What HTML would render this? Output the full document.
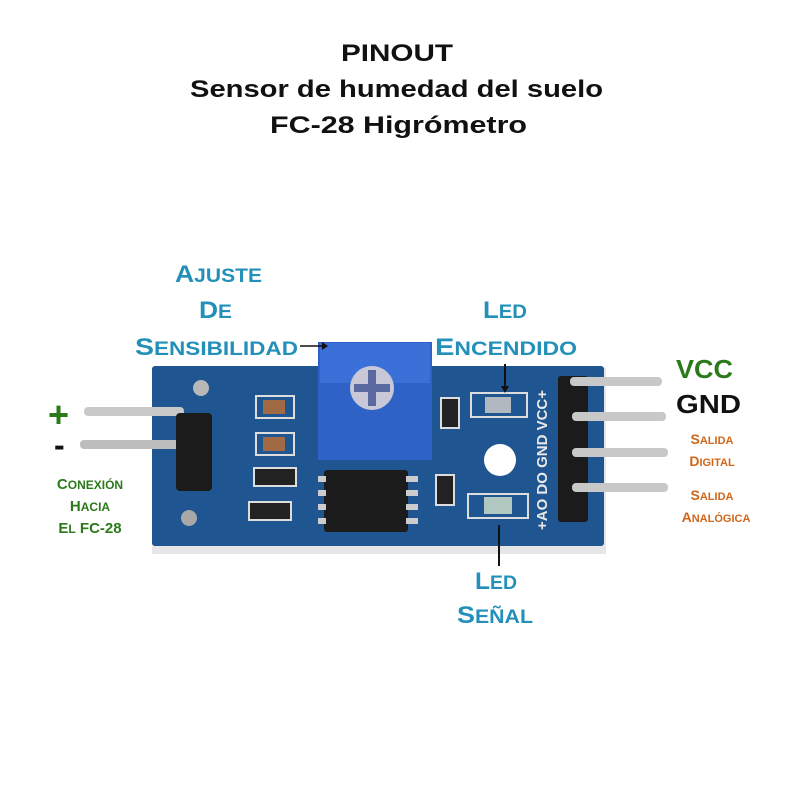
<!DOCTYPE html>
<html><head><style>
body{margin:0;background:#fff;}
svg text{font-family:"Liberation Sans",sans-serif;font-weight:bold;}
</style></head><body>
<svg width="800" height="800" viewBox="0 0 800 800" xmlns="http://www.w3.org/2000/svg">
<text x="341" y="61" font-size="24" textLength="112" lengthAdjust="spacingAndGlyphs" fill="#111">PINOUT</text>
<text x="190" y="97" font-size="24" textLength="413" lengthAdjust="spacingAndGlyphs" fill="#111">Sensor de humedad del suelo</text>
<text x="270" y="133" font-size="24" textLength="257" lengthAdjust="spacingAndGlyphs" fill="#111">FC-28 Higrómetro</text>

<!-- board -->
<rect x="152" y="368" width="454" height="186" fill="#e6e6e6"/>
<rect x="152" y="366" width="452" height="180" rx="3" fill="#1f5590"/>
<rect x="84" y="407" width="100" height="9" rx="4" fill="#c9c9c9"/>
<rect x="80" y="440" width="100" height="9" rx="4" fill="#bdbdbd"/>
<rect x="176" y="413" width="36" height="78" rx="4" fill="#1b1b1b"/>
<circle cx="201" cy="388" r="8" fill="#b8b8b8"/>
<circle cx="189" cy="518" r="8" fill="#a8a8a8"/>
<rect x="256" y="396" width="38" height="22" fill="none" stroke="#ddd" stroke-width="2"/>
<rect x="263" y="400" width="22" height="14" fill="#a06a45"/>
<rect x="256" y="433" width="38" height="22" fill="none" stroke="#ddd" stroke-width="2"/>
<rect x="263" y="437" width="22" height="14" fill="#a06a45"/>
<rect x="254" y="468" width="42" height="18" fill="#222" stroke="#ddd" stroke-width="2"/>
<rect x="249" y="502" width="42" height="18" fill="#222" stroke="#ddd" stroke-width="2"/>
<rect x="318" y="342" width="114" height="118" fill="#2e62c6"/>
<rect x="320" y="343" width="110" height="40" fill="#3a70d8"/>
<circle cx="372" cy="388" r="22" fill="#c8c8d8"/>
<rect x="368" y="370" width="8" height="36" fill="#5a6aa0"/>
<rect x="354" y="384" width="36" height="8" fill="#5a6aa0"/>
<rect x="324" y="470" width="84" height="62" rx="3" fill="#1c1c1c"/>
<g fill="#ccc">
<rect x="318" y="476" width="8" height="6"/><rect x="318" y="490" width="8" height="6"/><rect x="318" y="504" width="8" height="6"/><rect x="318" y="518" width="8" height="6"/>
<rect x="406" y="476" width="12" height="6"/><rect x="406" y="490" width="12" height="6"/><rect x="406" y="504" width="12" height="6"/><rect x="406" y="518" width="12" height="6"/>
</g>
<rect x="441" y="398" width="18" height="30" fill="#222" stroke="#ddd" stroke-width="2"/>
<rect x="436" y="475" width="18" height="30" fill="#222" stroke="#ddd" stroke-width="2"/>
<rect x="471" y="393" width="56" height="24" fill="#1f5590" stroke="#ddd" stroke-width="2"/>
<rect x="485" y="397" width="26" height="16" fill="#b0b8c0"/>
<rect x="468" y="494" width="60" height="24" fill="#1f5590" stroke="#ddd" stroke-width="2"/>
<rect x="484" y="497" width="28" height="17" fill="#b0c8c0"/>
<circle cx="500" cy="460" r="16" fill="#fff"/>
<text transform="translate(547,530) rotate(-90)" font-size="15" fill="#e8e8e8" font-weight="normal">+AO DO GND VCC+</text>
<rect x="558" y="376" width="30" height="146" rx="3" fill="#1b1b1b"/>
<rect x="570" y="377" width="92" height="9" rx="4" fill="#c8c8c8"/>
<rect x="572" y="412" width="94" height="9" rx="4" fill="#c8c8c8"/>
<rect x="572" y="448" width="96" height="9" rx="4" fill="#c8c8c8"/>
<rect x="572" y="483" width="96" height="9" rx="4" fill="#c8c8c8"/>

<line x1="300" y1="346" x2="322" y2="346" stroke="#111" stroke-width="1.5"/>
<path d="M322 342 L328 346 L322 350Z" fill="#111"/>
<line x1="505" y1="364" x2="505" y2="390" stroke="#111" stroke-width="2"/>
<path d="M501 386 L505 393 L509 386Z" fill="#111"/>
<line x1="499" y1="525" x2="499" y2="566" stroke="#111" stroke-width="2"/>

<g fill="#2290b8" font-size="24">
<text x="175" y="282" textLength="87" lengthAdjust="spacingAndGlyphs">A<tspan font-size="19">JUSTE</tspan></text>
<text x="199" y="318" textLength="33" lengthAdjust="spacingAndGlyphs">D<tspan font-size="19">E</tspan></text>
<text x="135" y="355" textLength="163" lengthAdjust="spacingAndGlyphs">S<tspan font-size="19">ENSIBILIDAD</tspan></text>
<text x="483" y="318" textLength="44" lengthAdjust="spacingAndGlyphs">L<tspan font-size="19">ED</tspan></text>
<text x="435" y="355" textLength="142" lengthAdjust="spacingAndGlyphs">E<tspan font-size="19">NCENDIDO</tspan></text>
<text x="475" y="589" textLength="42" lengthAdjust="spacingAndGlyphs">L<tspan font-size="19">ED</tspan></text>
<text x="457" y="623" textLength="76" lengthAdjust="spacingAndGlyphs">S<tspan font-size="19">EÑAL</tspan></text>
</g>
<text x="676" y="378" font-size="26" textLength="57" lengthAdjust="spacingAndGlyphs" fill="#2a7a1a">VCC</text>
<text x="676" y="413" font-size="26" textLength="65" lengthAdjust="spacingAndGlyphs" fill="#111">GND</text>
<g fill="#d0661a" font-size="14" text-anchor="middle">
<text x="712" y="444">S<tspan font-size="11">ALIDA</tspan></text>
<text x="712" y="466">D<tspan font-size="11">IGITAL</tspan></text>
<text x="712" y="500">S<tspan font-size="11">ALIDA</tspan></text>
<text x="716" y="522">A<tspan font-size="11">NALÓGICA</tspan></text>
</g>
<text x="48" y="427" font-size="36" fill="#2a7a1a">+</text>
<text x="54" y="456" font-size="32" fill="#111">-</text>
<g fill="#2a7a1a" font-size="15" text-anchor="middle">
<text x="90" y="489">C<tspan font-size="12">ONEXIÓN</tspan></text>
<text x="90" y="511">H<tspan font-size="12">ACIA</tspan></text>
<text x="90" y="533">E<tspan font-size="12">L</tspan> FC-28</text>
</g>
</svg>
</body></html>
